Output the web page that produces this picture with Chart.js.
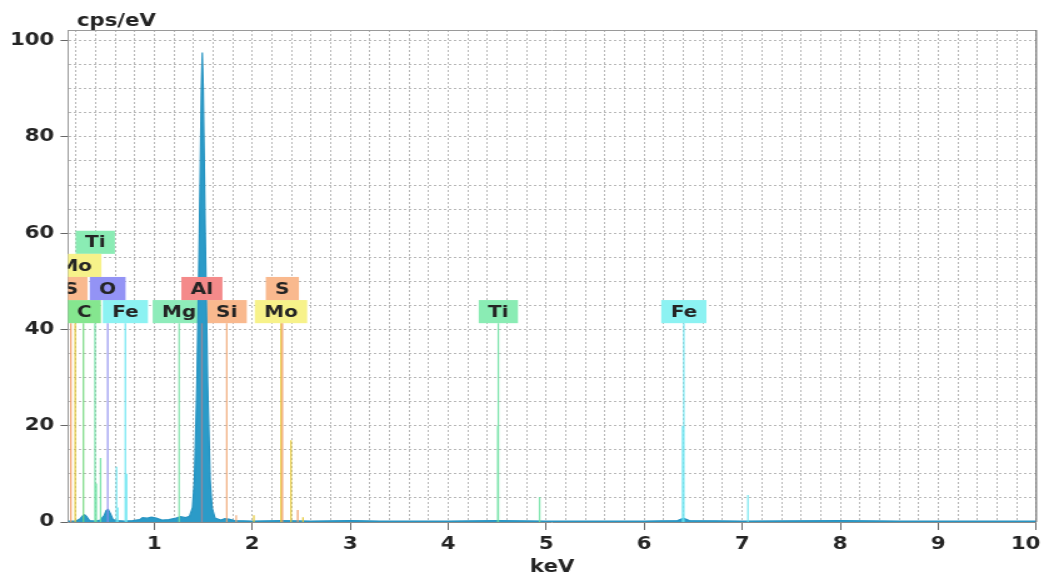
<!DOCTYPE html>
<html>
<head>
<meta charset="utf-8">
<title>EDS spectrum</title>
<script src="https://cdn.jsdelivr.net/npm/chart.js@4.4.1/dist/chart.umd.min.js"></script>
<style>
  html, body { margin: 0; padding: 0; background: #fff; overflow: hidden; }
  /* the plot is drawn narrow and widened, like the exported EDS screenshot */
  #wrap { width: 835px; height: 581px; transform: scaleX(1.2503); transform-origin: 0 0; }
</style>
</head>
<body>
<div id="wrap"><canvas id="eds" width="835" height="581"></canvas></div>
<script>
// measured spectrum (keV, counts per eV)
const specKeV = [0.12, 0.20, 0.24, 0.27, 0.29, 0.31, 0.34, 0.40, 0.45, 0.49, 0.51, 0.53, 0.555, 0.58, 0.62, 0.70,
  0.78, 0.85, 0.88, 0.93, 0.97, 1.02, 1.08, 1.15, 1.22, 1.27, 1.32, 1.36, 1.39, 1.41, 1.435, 1.46, 1.48, 1.49,
  1.50, 1.52, 1.545, 1.57, 1.59, 1.62, 1.68, 1.72, 1.76, 1.82, 2.0, 2.3, 2.6, 3.0, 3.3, 4.0, 4.5, 5.0, 6.0,
  6.34, 6.40, 6.46, 7.0, 8.0, 8.6, 9.0, 10.0];
const specCps = [0.2, 0.2, 0.6, 1.3, 1.5, 1.1, 0.3, 0.2, 0.4, 1.4, 2.4, 2.6, 1.6, 0.5, 0.3, 0.2,
  0.3, 0.5, 0.9, 0.8, 1.0, 0.8, 0.4, 0.5, 0.8, 1.1, 0.9, 1.2, 3.0, 8.7, 29, 60, 90, 97.5,
  90, 60, 29, 8.7, 3.0, 0.8, 0.4, 0.7, 0.6, 0.3, 0.2, 0.3, 0.2, 0.3, 0.2, 0.2, 0.3, 0.2, 0.2,
  0.3, 0.8, 0.3, 0.2, 0.3, 0.2, 0.2, 0.2];

// element marker lines: energy, marker height, element
const lineKeV = [0.149, 2.307, 2.464, 0.193, 2.016, 2.293, 2.395, 2.518, 0.277, 0.395, 0.408, 0.452, 4.505, 4.511,
  4.932, 0.525, 0.615, 0.628, 0.705, 0.718, 6.391, 6.404, 7.058, 1.254, 1.486, 1.740, 1.836];
const lineCps = [41.3, 41.3, 2.5, 41.3, 1.4, 41.3, 17, 1.0, 41.3, 41.3, 8, 13.3, 20, 41.3,
  5.2, 41.3, 11.5, 3, 41.3, 10, 20, 41.3, 5.6, 41.3, 41.3, 41.3, 1.4];
const lineElem = ['S', 'S', 'S', 'Mo', 'Mo', 'Mo', 'Mo', 'Mo', 'C', 'Ti', 'Ti', 'Ti', 'Ti', 'Ti',
  'Ti', 'O', 'Fe', 'Fe', 'Fe', 'Fe', 'Fe', 'Fe', 'Fe', 'Mg', 'Al', 'Si', 'Si'];

// element tags: text, energy, stacking row
const tagText = ['Ti', 'Mo', 'S', 'O', 'C', 'Fe', 'Mg', 'Al', 'Si', 'S', 'Mo', 'Ti', 'Fe'];
const tagKeV = [0.398, 0.193, 0.149, 0.525, 0.285, 0.705, 1.254, 1.486, 1.740, 2.307, 2.293, 4.511, 6.404];
const tagRow = [3, 2, 1, 1, 0, 0, 0, 1, 0, 1, 0, 0, 0];

const xMajor = [1, 2, 3, 4, 5, 6, 7, 8, 9, 10];
const yMajor = [0, 20, 40, 60, 80, 100];

const lineColor = {
  S: 'rgba(240,150,95,0.85)', Mo: 'rgba(228,200,50,0.9)', C: 'rgba(110,215,120,0.85)',
  Ti: 'rgba(105,225,160,0.85)', O: 'rgba(140,140,240,0.85)', Fe: 'rgba(105,228,240,0.85)',
  Mg: 'rgba(120,225,165,0.85)', Al: 'rgba(235,120,120,0.55)', Si: 'rgba(240,165,110,0.85)'
};
const tagColor = {
  S: '#f9b98e', Mo: '#f7f28a', C: '#85e68f', Ti: '#8aecb4', O: '#9393f5',
  Fe: '#8cf2f2', Mg: '#8eecba', Al: '#f48a8a', Si: '#f9b98e'
};

const FONT = 'DejaVu Sans';
const INK = '#242424';
const TAG_BASE = 41.3, TAG_H = 4.8;

const near = (v, list) => list.some(m => Math.abs(m - v) < 1e-6);

// one line dataset per element, each marker is a 0 -> height segment
const markerSets = Object.keys(lineColor).map(el => {
  const pts = [];
  lineKeV.forEach((k, i) => {
    if (lineElem[i] !== el) return;
    pts.push({ x: k, y: 0 }, { x: k, y: lineCps[i] }, { x: k, y: null });
  });
  return {
    label: el, data: pts, borderColor: lineColor[el], borderWidth: 1.3,
    pointRadius: 0, fill: false, spanGaps: false, order: 0
  };
});

function drawTags(chart, rowOk) {
  const { ctx, chartArea: a, scales: { x, y } } = chart;
  ctx.save();
  ctx.beginPath();
  ctx.rect(a.left, a.top, a.right - a.left, a.bottom - a.top);
  ctx.clip();
  ctx.font = 'bold 16px ' + FONT;
  ctx.textAlign = 'center';
  ctx.textBaseline = 'middle';
  tagText.forEach((t, i) => {
    if (!rowOk(tagRow[i])) return;
    const cx = x.getPixelForValue(tagKeV[i]);
    const w = ctx.measureText(t).width + 15;
    const bot = y.getPixelForValue(TAG_BASE + tagRow[i] * TAG_H);
    const top = y.getPixelForValue(TAG_BASE + (tagRow[i] + 1) * TAG_H);
    ctx.fillStyle = tagColor[t];
    ctx.fillRect(cx - w / 2, top, w, bot - top);
    ctx.fillStyle = INK;
    ctx.fillText(t, cx, (top + bot) / 2 + 1);
  });
  ctx.restore();
}

const tagPlugin = {
  id: 'tags',
  beforeDatasetsDraw(chart) { drawTags(chart, r => r === 0); },
  afterDatasetsDraw(chart) { drawTags(chart, r => r > 0); }
};

const framePlugin = {
  id: 'frame',
  afterDraw(chart) {
    const { ctx, chartArea: a } = chart;
    ctx.save();
    ctx.lineWidth = 1;
    ctx.strokeStyle = '#9a9a9a';
    ctx.beginPath();
    ctx.moveTo(a.left, a.top + 0.5);
    ctx.lineTo(a.right, a.top + 0.5);
    ctx.stroke();
    ctx.strokeStyle = '#6e6e6e';
    ctx.lineWidth = 1.2;
    ctx.beginPath();
    ctx.moveTo(a.right, a.top);
    ctx.lineTo(a.right, a.bottom);
    ctx.stroke();
    ctx.fillStyle = INK;
    ctx.font = 'bold 17px ' + FONT;
    ctx.textAlign = 'left';
    ctx.textBaseline = 'alphabetic';
    ctx.fillText('cps/eV', 61.5, 26);
    ctx.restore();
  }
};

new Chart(document.getElementById('eds'), {
  type: 'line',
  data: {
    datasets: [
      ...markerSets,
      {
        label: 'spectrum',
        data: specKeV.map((k, i) => ({ x: k, y: specCps[i] })),
        borderColor: '#2794c2',
        backgroundColor: '#2b9bc8',
        borderWidth: 1.2,
        pointRadius: 0,
        fill: 'origin',
        order: 1
      }
    ]
  },
  options: {
    responsive: false,
    animation: false,
    layout: { padding: { top: 30, right: 6.2, left: 0, bottom: 0 } },
    plugins: { legend: { display: false }, tooltip: { enabled: false } },
    scales: {
      x: {
        type: 'linear',
        min: 0.12,
        max: 10,
        afterFit(s) { s.height = 59; s.paddingLeft = 0; s.paddingRight = 0; },
        ticks: {
          stepSize: 0.2,
          includeBounds: false,
          autoSkip: false,
          maxRotation: 0,
          padding: 4,
          color: INK,
          font: { family: FONT, size: 17, weight: 'bold' },
          // the last label is kept inside the frame
          callback: v => near(v, xMajor) ? (Math.round(v) === 10 ? '10\u2002\u2002' : String(Math.round(v))) : ''
        },
        grid: {
          color: '#b8b8b8',
          tickLength: 8,
          tickColor: c => near(c.tick.value, xMajor) ? '#666' : 'rgba(0,0,0,0)'
        },
        border: { display: true, color: '#8a8a8a', dash: [2, 2] },
        title: {
          display: true, text: 'keV', color: INK,
          font: { family: FONT, size: 17, weight: 'bold' }, padding: { top: 0, bottom: 3 }
        }
      },
      y: {
        min: 0,
        max: 102.2,
        afterFit(s) { s.width = 54.4; s.paddingTop = 0; s.paddingBottom = 0; },
        ticks: {
          stepSize: 5,
          includeBounds: false,
          autoSkip: false,
          padding: 5,
          color: INK,
          font: { family: FONT, size: 17, weight: 'bold' },
          callback: v => near(v, yMajor) ? String(Math.round(v)) : ''
        },
        grid: {
          color: '#b8b8b8',
          tickLength: 6,
          tickColor: c => near(c.tick.value, yMajor) ? '#666' : 'rgba(0,0,0,0)'
        },
        border: { display: true, color: '#9a9a9a', dash: [2, 2] }
      }
    }
  },
  plugins: [tagPlugin, framePlugin]
});
</script>
</body>
</html>
